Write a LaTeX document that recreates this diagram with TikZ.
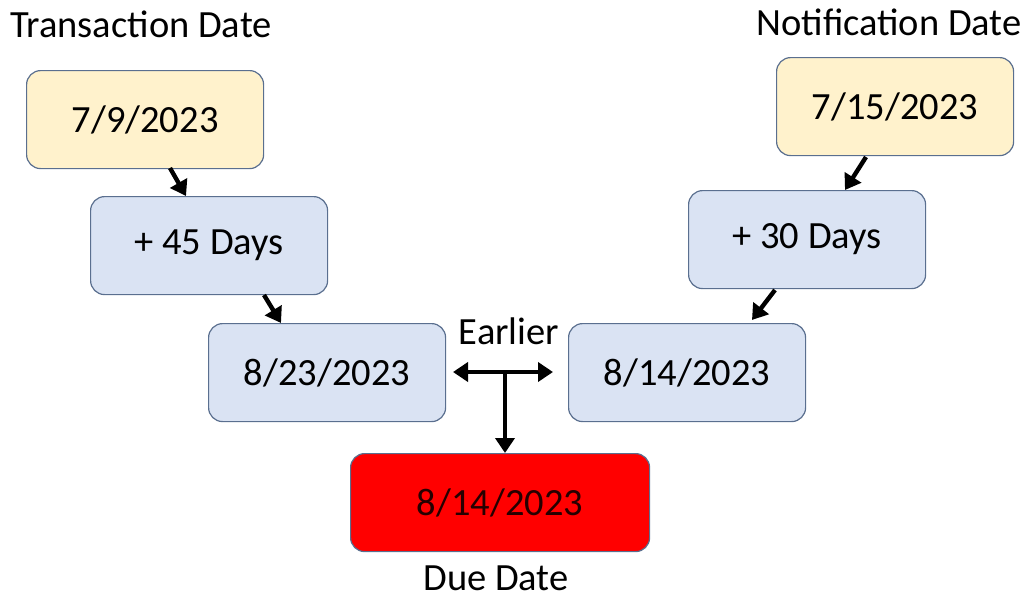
\documentclass[tikz,border=0pt]{standalone}
\usepackage{fontspec}
\setmainfont{Carlito}
\usetikzlibrary{arrows.meta}
\definecolor{yel}{HTML}{FFF2CC}
\definecolor{blu}{HTML}{DAE3F3}
\definecolor{bord}{HTML}{5A6F8F}
\tikzset{
  box/.style={draw=bord, line width=1.2pt, rounded corners=14pt, minimum width=237pt, minimum height=98pt, inner sep=0pt, font=\fontsize{38.5}{40}\selectfont, anchor=north west},
  ybox/.style={box, fill=yel},
  bbox/.style={box, fill=blu},
  rbox/.style={box, fill=red, minimum width=299pt, text=black!85!red},
  lbl/.style={font=\fontsize{38.5}{40}\selectfont, inner sep=0pt},
  arr/.style={line width=4.4pt, -{Triangle[length=15pt,width=19pt]}},
  darr/.style={line width=4.4pt, {Triangle[length=15pt,width=19pt]}-{Triangle[length=15pt,width=19pt]}}
}
\begin{document}
\begin{tikzpicture}[x=1pt,y=-1pt]
\useasboundingbox (0,0) rectangle (1029,598);
\node[ybox] (a) at (26,70) {7/9/2023};
\node[bbox] (b) at (90,196) {+ 45 Days};
\node[bbox] (c) at (208,323) {8/23/2023};
\node[ybox] (d) at (776,57) {7/15/2023};
\node[bbox] (e) at (688,190) {+ 30 Days};
\node[bbox] (f) at (568,323) {8/14/2023};
\node[rbox] (g) at (350,453) {8/14/2023};
\node[lbl] (la) at (141,24) {Transaction Date};
\node[lbl] (ld) at (889,22) {Notification Date};
\node[lbl] (le) at (509,331) {Earlier};
\node[lbl] (lg) at (496,578) {Due Date};
\coordinate (a1) at (170,168);
\coordinate (b0) at (186,196);
\coordinate (b1) at (264,295);
\coordinate (c0) at (281,323);
\coordinate (d1) at (866,157);
\coordinate (e0) at (845,190);
\coordinate (e1) at (775,290);
\coordinate (f0) at (752,320);
\coordinate (h0) at (453,372);
\coordinate (h1) at (553,372);
\coordinate (v0) at (505,372);
\draw[arr] (a1) -- (b0);
\draw[arr] (b1) -- (c0);
\draw[arr] (d1) -- (e0);
\draw[arr] (e1) -- (f0);
\draw[darr] (h0) -- (h1);
\draw[arr] (v0) -- (g.north -| v0);
\end{tikzpicture}
\end{document}
